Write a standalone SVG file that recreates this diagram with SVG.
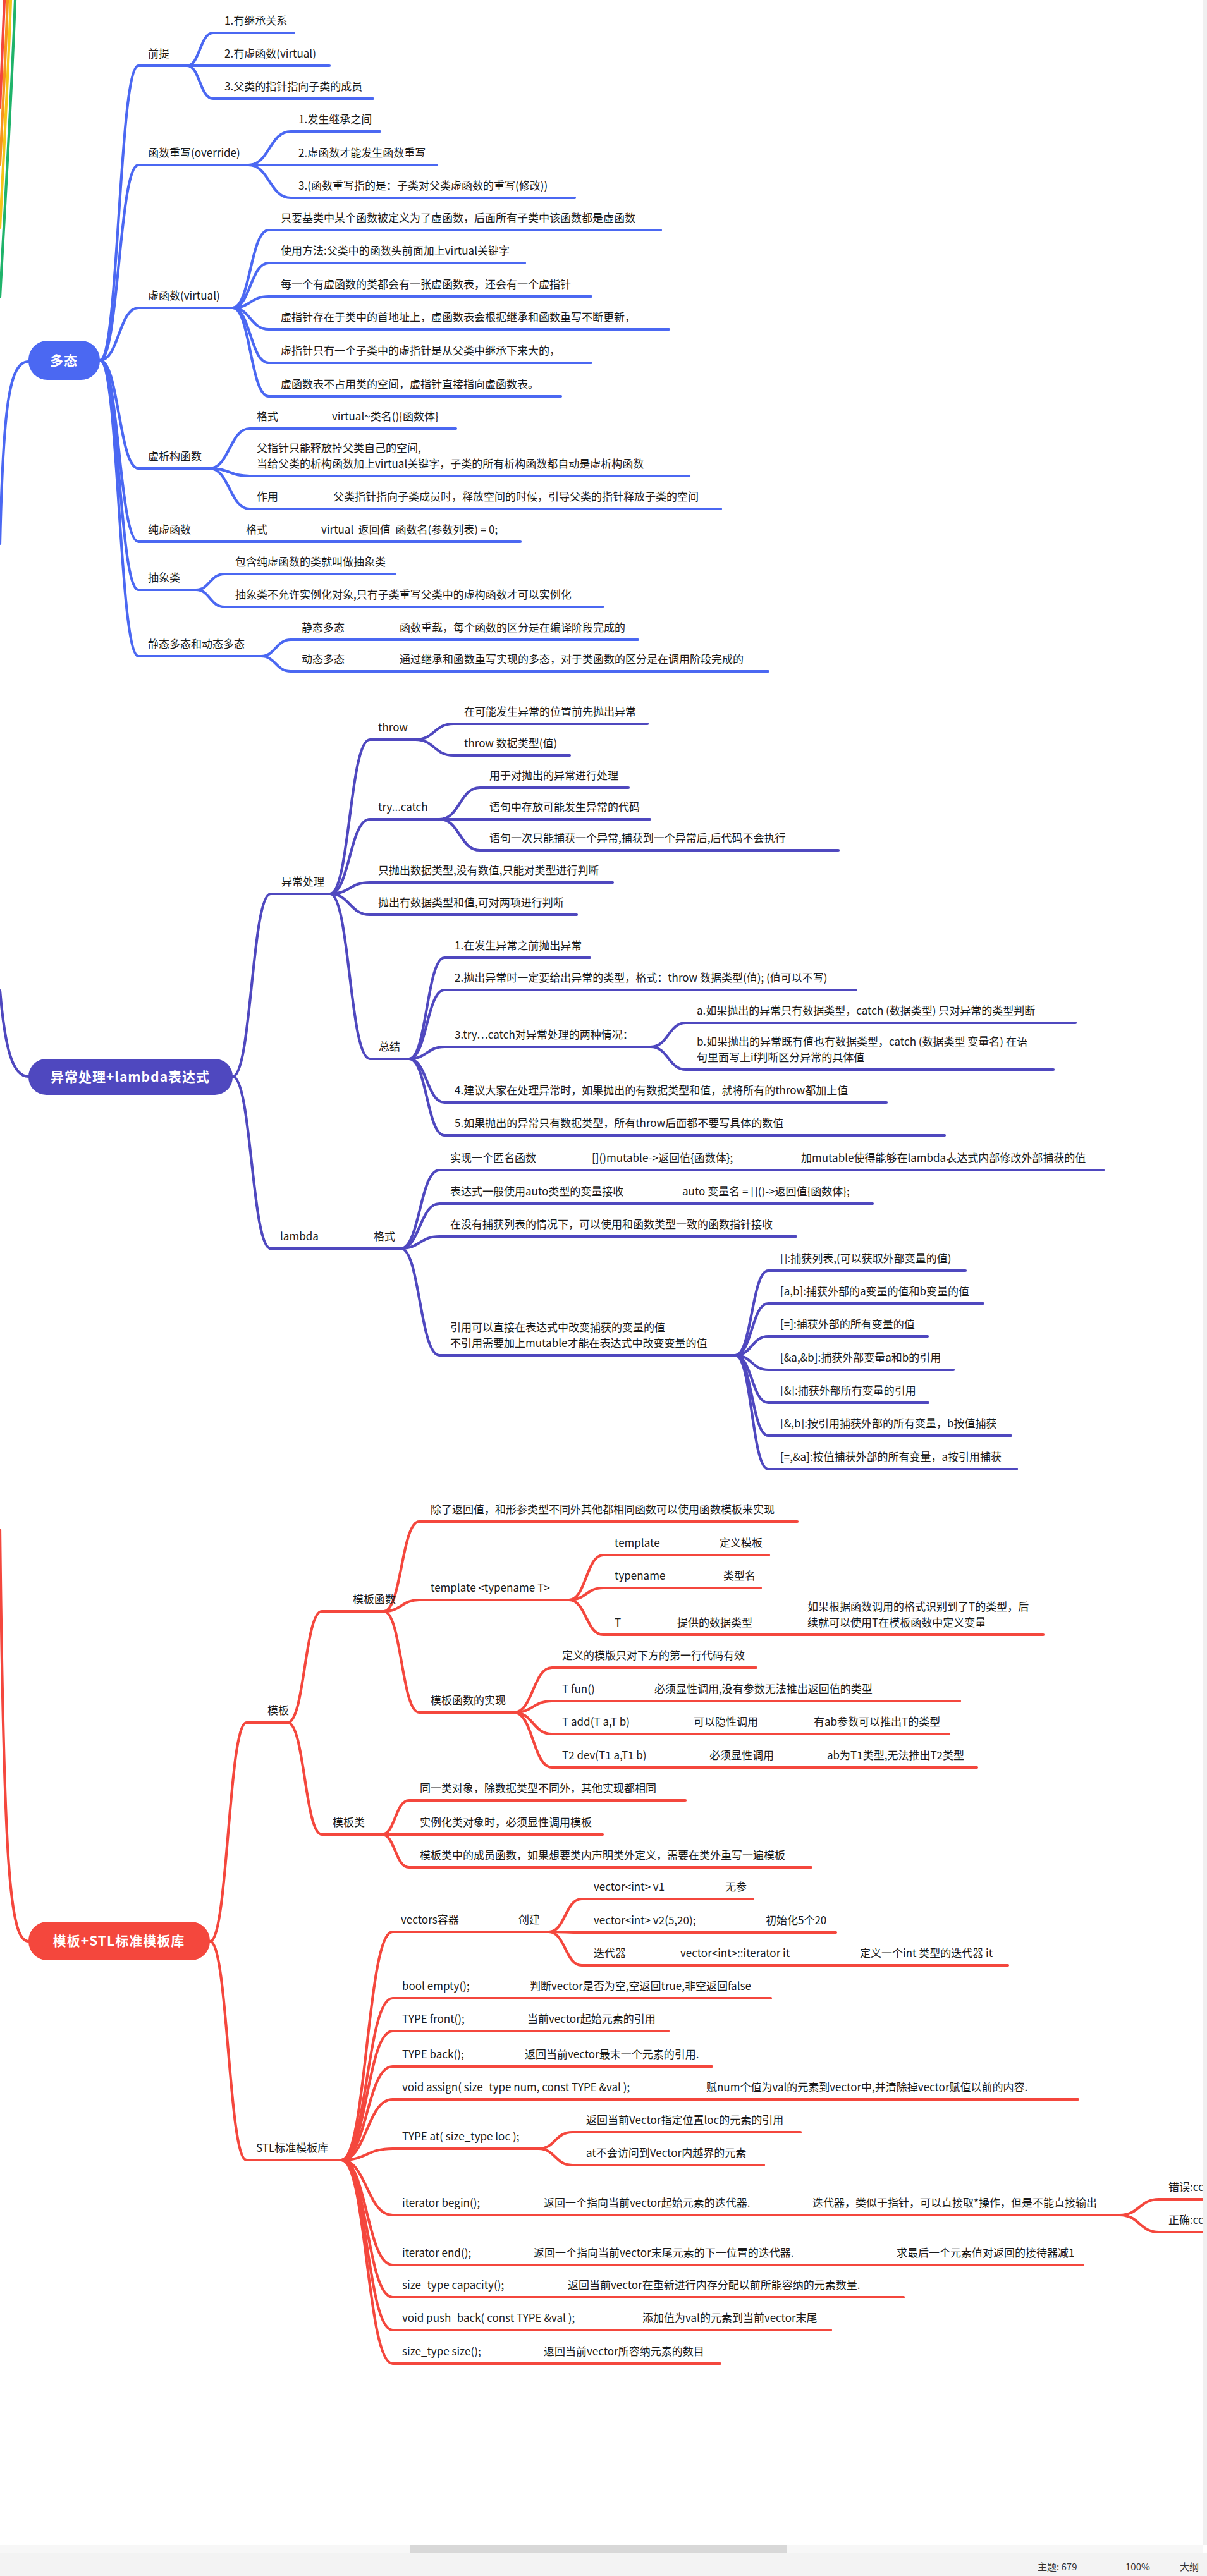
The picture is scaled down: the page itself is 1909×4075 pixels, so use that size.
<svg xmlns="http://www.w3.org/2000/svg" width="1909" height="4075" viewBox="0 0 1909 4075">
<style>
text{font-family:"Noto Sans CJK SC","Noto Sans",sans-serif;font-size:17px;fill:#1a1a1a}
.pre{white-space:pre}
.root{font-size:21px;font-weight:bold;fill:#fff;text-anchor:middle;letter-spacing:1px}
.c{fill:none;stroke-width:4.2;stroke-linecap:round;stroke-linejoin:round}
.b{stroke:#4b68f2}
.p{stroke:#4f48bf}
.r{stroke:#f4473d}
.st{font-size:15px;fill:#333}
</style>
<rect width="1909" height="4075" fill="#fff"/>

<g id="connectors">
  <path class="c r" d="M7,0 C5,60 2,120 0,170"/>
  <path class="c" stroke="#f7941d" d="M12,0 C9,90 4,180 0,260"/>
  <path class="c" stroke="#f5c518" d="M17,0 C13,120 6,240 0,360"/>
  <path class="c" stroke="#1fb36a" d="M24,0 C18,160 8,320 0,470"/>
  <path class="c b" d="M45,572 C15,572 5,640 0,860"/>
  <path class="c p" d="M45,1703 C20,1703 8,1660 0,1567"/>
  <path class="c r" d="M45,3071 C15,3071 6,2950 0,2420"/>

  <path class="c b" d="M158,570 C188,570 188,104 219,104 H296"/>
  <path class="c b" d="M158,570 C188,570 188,261 219,261 H393"/>
  <path class="c b" d="M158,570 C188,570 188,487 219,487 H368"/>
  <path class="c b" d="M158,570 C188,570 188,741 219,741 H331"/>
  <path class="c b" d="M158,570 C188,570 188,857 219,857 H823"/>
  <path class="c b" d="M158,570 C188,570 188,933 219,933 H310"/>
  <path class="c b" d="M158,570 C188,570 188,1038 219,1038 H413"/>
  <path class="c b" d="M296,104 C316,104 316,52 337,52 H465"/>
  <path class="c b" d="M296,104 H521"/>
  <path class="c b" d="M296,104 C316,104 316,156 337,156 H590"/>
  <path class="c b" d="M393,261 C426,261 426,208 460,208 H601"/>
  <path class="c b" d="M393,261 H691"/>
  <path class="c b" d="M393,261 C426,261 426,313 460,313 H909"/>
  <path class="c b" d="M368,487 C396,487 396,364 425,364 H1045"/>
  <path class="c b" d="M368,487 C396,487 396,416 425,416 H830"/>
  <path class="c b" d="M368,487 C396,487 396,469 425,469 H935"/>
  <path class="c b" d="M368,487 C396,487 396,521 425,521 H1058"/>
  <path class="c b" d="M368,487 C396,487 396,574 425,574 H935"/>
  <path class="c b" d="M368,487 C396,487 396,627 425,627 H887"/>
  <path class="c b" d="M331,741 C363,741 363,678 395,678 H721"/>
  <path class="c b" d="M331,741 C363,741 363,753 395,753 H1090"/>
  <path class="c b" d="M331,741 C363,741 363,805 395,805 H1140"/>
  <path class="c b" d="M310,933 C332,933 332,908 355,908 H625"/>
  <path class="c b" d="M310,933 C332,933 332,960 355,960 H954"/>
  <path class="c b" d="M413,1038 C436,1038 436,1012 460,1012 H1009"/>
  <path class="c b" d="M413,1038 C436,1038 436,1062 460,1062 H1215"/>

  <path class="c p" d="M368,1703 C398,1703 398,1414 428,1414 H522"/>
  <path class="c p" d="M368,1703 C398,1703 398,1975 428,1975 H634"/>
  <path class="c p" d="M522,1414 C553,1414 553,1170 585,1170 H657"/>
  <path class="c p" d="M522,1414 C553,1414 553,1296 585,1296 H695"/>
  <path class="c p" d="M522,1414 C553,1414 553,1396 585,1396 H969"/>
  <path class="c p" d="M522,1414 C553,1414 553,1447 585,1447 H912"/>
  <path class="c p" d="M522,1414 C553,1414 553,1675 585,1675 H647"/>
  <path class="c p" d="M657,1170 C687,1170 687,1145 717,1145 H1024"/>
  <path class="c p" d="M657,1170 C687,1170 687,1195 717,1195 H901"/>
  <path class="c p" d="M695,1296 C727,1296 727,1246 759,1246 H994"/>
  <path class="c p" d="M695,1296 H1028"/>
  <path class="c p" d="M695,1296 C727,1296 727,1345 759,1345 H1326"/>
  <path class="c p" d="M647,1675 C675,1675 675,1515 703,1515 H933"/>
  <path class="c p" d="M647,1675 C675,1675 675,1566 703,1566 H1354"/>
  <path class="c p" d="M647,1675 C675,1675 675,1656 703,1656 H1029"/>
  <path class="c p" d="M647,1675 C675,1675 675,1744 703,1744 H1402"/>
  <path class="c p" d="M647,1675 C675,1675 675,1796 703,1796 H1494"/>
  <path class="c p" d="M1029,1656 C1057,1656 1057,1618 1085,1618 H1701"/>
  <path class="c p" d="M1029,1656 C1057,1656 1057,1692 1085,1692 H1666"/>
  <path class="c p" d="M634,1975 C664,1975 664,1851 695,1851 H1745"/>
  <path class="c p" d="M634,1975 C664,1975 664,1904 695,1904 H1380"/>
  <path class="c p" d="M634,1975 C664,1975 664,1956 695,1956 H1259"/>
  <path class="c p" d="M634,1975 C664,1975 664,2144 695,2144 H1163"/>
  <path class="c p" d="M1163,2144 C1189,2144 1189,2010 1215,2010 H1527"/>
  <path class="c p" d="M1163,2144 C1189,2144 1189,2062 1215,2062 H1555"/>
  <path class="c p" d="M1163,2144 C1189,2144 1189,2114 1215,2114 H1467"/>
  <path class="c p" d="M1163,2144 C1189,2144 1189,2167 1215,2167 H1508"/>
  <path class="c p" d="M1163,2144 C1189,2144 1189,2219 1215,2219 H1468"/>
  <path class="c p" d="M1163,2144 C1189,2144 1189,2271 1215,2271 H1599"/>
  <path class="c p" d="M1163,2144 C1189,2144 1189,2324 1215,2324 H1608"/>

  <path class="c r" d="M332,3071 C361,3071 361,2725 390,2725 H455"/>
  <path class="c r" d="M332,3071 C361,3071 361,3417 390,3417 H540"/>
  <path class="c r" d="M455,2725 C482,2725 482,2549 509,2549 H607"/>
  <path class="c r" d="M455,2725 C482,2725 482,2902 509,2902 H604"/>
  <path class="c r" d="M607,2549 C635,2549 635,2407 663,2407 H1261"/>
  <path class="c r" d="M607,2549 C635,2549 635,2531 663,2531 H900"/>
  <path class="c r" d="M607,2549 C635,2549 635,2709 663,2709 H813"/>
  <path class="c r" d="M900,2531 C927,2531 927,2460 954,2460 H1216"/>
  <path class="c r" d="M900,2531 C927,2531 927,2512 954,2512 H1203"/>
  <path class="c r" d="M900,2531 C927,2531 927,2586 954,2586 H1650"/>
  <path class="c r" d="M813,2709 C843,2709 843,2638 873,2638 H1196"/>
  <path class="c r" d="M813,2709 C843,2709 843,2691 873,2691 H1518"/>
  <path class="c r" d="M813,2709 C843,2709 843,2743 873,2743 H1501"/>
  <path class="c r" d="M813,2709 C843,2709 843,2796 873,2796 H1545"/>
  <path class="c r" d="M604,2902 C625,2902 625,2848 647,2848 H1084"/>
  <path class="c r" d="M604,2902 H953"/>
  <path class="c r" d="M604,2902 C625,2902 625,2954 647,2954 H1283"/>
  <path class="c r" d="M540,3417 C580,3417 580,3056 621,3056 H868"/>
  <path class="c r" d="M540,3417 C580,3417 580,3161 621,3161 H1219"/>
  <path class="c r" d="M540,3417 C580,3417 580,3213 621,3213 H1057"/>
  <path class="c r" d="M540,3417 C580,3417 580,3269 621,3269 H1126"/>
  <path class="c r" d="M540,3417 C580,3417 580,3321 621,3321 H1705"/>
  <path class="c r" d="M540,3417 C580,3417 580,3399 621,3399 H852"/>
  <path class="c r" d="M540,3417 C580,3417 580,3504 621,3504 H1771"/>
  <path class="c r" d="M540,3417 C580,3417 580,3583 621,3583 H1713"/>
  <path class="c r" d="M540,3417 C580,3417 580,3634 621,3634 H1429"/>
  <path class="c r" d="M540,3417 C580,3417 580,3686 621,3686 H1314"/>
  <path class="c r" d="M540,3417 C580,3417 580,3739 621,3739 H1139"/>
  <path class="c r" d="M868,3056 C894,3056 894,3004 920,3004 H1191"/>
  <path class="c r" d="M868,3056 C894,3056 894,3057 920,3057 H1322"/>
  <path class="c r" d="M868,3056 C894,3056 894,3109 920,3109 H1594"/>
  <path class="c r" d="M852,3399 C878,3399 878,3373 905,3373 H1266"/>
  <path class="c r" d="M852,3399 C878,3399 878,3425 905,3425 H1208"/>
  <path class="c r" d="M1771,3504 C1802,3504 1802,3479 1833,3479 H1915"/>
  <path class="c r" d="M1771,3504 C1802,3504 1802,3531 1833,3531 H1915"/>
</g>

<g id="root-duotai"><rect x="45" y="539" width="113" height="62" rx="30" fill="#4b68f2"/><text class="root" x="101" y="578">多态</text></g>
<g id="qianti"><text x="234" y="91">前提</text></g>
<g id="qianti-1"><text x="355" y="39">1.有继承关系</text></g>
<g id="qianti-2"><text x="355" y="91">2.有虚函数(virtual)</text></g>
<g id="qianti-3"><text x="355" y="143">3.父类的指针指向子类的成员</text></g>
<g id="override"><text x="234" y="248">函数重写(override)</text></g>
<g id="override-1"><text x="472" y="195">1.发生继承之间</text></g>
<g id="override-2"><text x="472" y="248">2.虚函数才能发生函数重写</text></g>
<g id="override-3"><text x="472" y="300">3.(函数重写指的是：子类对父类虚函数的重写(修改))</text></g>
<g id="virtual"><text x="234" y="474">虚函数(virtual)</text></g>
<g id="virtual-1"><text x="444" y="351">只要基类中某个函数被定义为了虚函数，后面所有子类中该函数都是虚函数</text></g>
<g id="virtual-2"><text x="444" y="403">使用方法:父类中的函数头前面加上virtual关键字</text></g>
<g id="virtual-3"><text x="444" y="456">每一个有虚函数的类都会有一张虚函数表，还会有一个虚指针</text></g>
<g id="virtual-4"><text x="444" y="508">虚指针存在于类中的首地址上，虚函数表会根据继承和函数重写不断更新，</text></g>
<g id="virtual-5"><text x="444" y="561">虚指针只有一个子类中的虚指针是从父类中继承下来大的，</text></g>
<g id="virtual-6"><text x="444" y="614">虚函数表不占用类的空间，虚指针直接指向虚函数表。</text></g>
<g id="dtor"><text x="234" y="728">虚析构函数</text></g>
<g id="dtor-1"><text x="406" y="665">格式</text><text x="525" y="665">virtual~类名(){函数体}</text></g>
<g id="dtor-2"><text x="406" y="715">父指针只能释放掉父类自己的空间,</text><text x="406" y="740">当给父类的析构函数加上virtual关键字，子类的所有析构函数都自动是虚析构函数</text></g>
<g id="dtor-3"><text x="406" y="792">作用</text><text x="527" y="792">父类指针指向子类成员时，释放空间的时候，引导父类的指针释放子类的空间</text></g>
<g id="pure"><text x="234" y="844">纯虚函数</text><text x="389" y="844">格式</text><text class="pre" x="508" y="844">virtual  返回值  函数名(参数列表) = 0;</text></g>
<g id="abstract"><text x="234" y="920">抽象类</text></g>
<g id="abstract-1"><text x="372" y="895">包含纯虚函数的类就叫做抽象类</text></g>
<g id="abstract-2"><text x="372" y="947">抽象类不允许实例化对象,只有子类重写父类中的虚构函数才可以实例化</text></g>
<g id="static-dynamic"><text x="234" y="1025">静态多态和动态多态</text></g>
<g id="static"><text x="477" y="999">静态多态</text><text x="632" y="999">函数重载，每个函数的区分是在编译阶段完成的</text></g>
<g id="dynamic"><text x="477" y="1049">动态多态</text><text x="632" y="1049">通过继承和函数重写实现的多态，对于类函数的区分是在调用阶段完成的</text></g>

<g id="root-exception"><rect x="45" y="1675" width="323" height="57" rx="28" fill="#4f48bf"/><text class="root" x="206" y="1711">异常处理+lambda表达式</text></g>
<g id="exc"><text x="445" y="1401">异常处理</text></g>
<g id="throw"><text x="598" y="1157">throw</text></g>
<g id="throw-1"><text x="734" y="1132">在可能发生异常的位置前先抛出异常</text></g>
<g id="throw-2"><text x="734" y="1182">throw 数据类型(值)</text></g>
<g id="trycatch"><text x="598" y="1283">try...catch</text></g>
<g id="trycatch-1"><text x="774" y="1233">用于对抛出的异常进行处理</text></g>
<g id="trycatch-2"><text x="774" y="1283">语句中存放可能发生异常的代码</text></g>
<g id="trycatch-3"><text x="774" y="1332">语句一次只能捕获一个异常,捕获到一个异常后,后代码不会执行</text></g>
<g id="exc-3"><text x="598" y="1383">只抛出数据类型,没有数值,只能对类型进行判断</text></g>
<g id="exc-4"><text x="598" y="1434">抛出有数据类型和值,可对两项进行判断</text></g>
<g id="summary"><text x="599" y="1662">总结</text></g>
<g id="summary-1"><text x="719" y="1502">1.在发生异常之前抛出异常</text></g>
<g id="summary-2"><text x="719" y="1553">2.抛出异常时一定要给出异常的类型，格式：throw 数据类型(值); (值可以不写)</text></g>
<g id="summary-3"><text x="719" y="1643">3.try…catch对异常处理的两种情况：</text></g>
<g id="summary-3a"><text x="1102" y="1605">a.如果抛出的异常只有数据类型，catch (数据类型) 只对异常的类型判断</text></g>
<g id="summary-3b"><text x="1102" y="1654">b.如果抛出的异常既有值也有数据类型，catch (数据类型 变量名) 在语</text><text x="1102" y="1679">句里面写上if判断区分异常的具体值</text></g>
<g id="summary-4"><text x="719" y="1731">4.建议大家在处理异常时，如果抛出的有数据类型和值，就将所有的throw都加上值</text></g>
<g id="summary-5"><text x="719" y="1783">5.如果抛出的异常只有数据类型，所有throw后面都不要写具体的数值</text></g>
<g id="lambda"><text x="443" y="1962">lambda</text><text x="591" y="1962">格式</text></g>
<g id="lambda-1"><text x="712" y="1838">实现一个匿名函数</text><text x="936" y="1838">[]()mutable-&gt;返回值{函数体};</text><text x="1267" y="1838">加mutable使得能够在lambda表达式内部修改外部捕获的值</text></g>
<g id="lambda-2"><text x="712" y="1891">表达式一般使用auto类型的变量接收</text><text x="1079" y="1891">auto 变量名 = []()-&gt;返回值{函数体};</text></g>
<g id="lambda-3"><text x="712" y="1943">在没有捕获列表的情况下，可以使用和函数类型一致的函数指针接收</text></g>
<g id="lambda-4"><text x="712" y="2106">引用可以直接在表达式中改变捕获的变量的值</text><text x="712" y="2131">不引用需要加上mutable才能在表达式中改变变量的值</text></g>
<g id="cap-1"><text x="1234" y="1997">[]:捕获列表,(可以获取外部变量的值)</text></g>
<g id="cap-2"><text x="1234" y="2049">[a,b]:捕获外部的a变量的值和b变量的值</text></g>
<g id="cap-3"><text x="1234" y="2101">[=]:捕获外部的所有变量的值</text></g>
<g id="cap-4"><text x="1234" y="2154">[&amp;a,&amp;b]:捕获外部变量a和b的引用</text></g>
<g id="cap-5"><text x="1234" y="2206">[&amp;]:捕获外部所有变量的引用</text></g>
<g id="cap-6"><text x="1234" y="2258">[&amp;,b]:按引用捕获外部的所有变量，b按值捕获</text></g>
<g id="cap-7"><text x="1234" y="2311">[=,&amp;a]:按值捕获外部的所有变量，a按引用捕获</text></g>

<g id="root-template"><rect x="45" y="3040" width="287" height="61" rx="30" fill="#f4473d"/><text class="root" x="188" y="3078">模板+STL标准模板库</text></g>
<g id="tpl"><text x="423" y="2712">模板</text></g>
<g id="tplfunc"><text x="558" y="2536">模板函数</text></g>
<g id="tplfunc-1"><text x="681" y="2394">除了返回值，和形参类型不同外其他都相同函数可以使用函数模板来实现</text></g>
<g id="tplfunc-2"><text x="681" y="2518">template &lt;typename T&gt;</text></g>
<g id="kw-template"><text x="972" y="2447">template</text><text x="1138" y="2447">定义模板</text></g>
<g id="kw-typename"><text x="972" y="2499">typename</text><text x="1144" y="2499">类型名</text></g>
<g id="kw-T"><text x="972" y="2573">T</text><text x="1071" y="2573">提供的数据类型</text><text x="1277" y="2548">如果根据函数调用的格式识别到了T的类型，后</text><text x="1277" y="2573">续就可以使用T在模板函数中定义变量</text></g>
<g id="tplfunc-3"><text x="681" y="2696">模板函数的实现</text></g>
<g id="impl-1"><text x="889" y="2625">定义的模版只对下方的第一行代码有效</text></g>
<g id="impl-2"><text x="889" y="2678">T fun()</text><text x="1035" y="2678">必须显性调用,没有参数无法推出返回值的类型</text></g>
<g id="impl-3"><text x="889" y="2730">T add(T a,T b)</text><text x="1097" y="2730">可以隐性调用</text><text x="1287" y="2730">有ab参数可以推出T的类型</text></g>
<g id="impl-4"><text x="889" y="2783">T2 dev(T1 a,T1 b)</text><text x="1122" y="2783">必须显性调用</text><text x="1308" y="2783">ab为T1类型,无法推出T2类型</text></g>
<g id="tplclass"><text x="526" y="2889">模板类</text></g>
<g id="tplclass-1"><text x="664" y="2835">同一类对象，除数据类型不同外，其他实现都相同</text></g>
<g id="tplclass-2"><text x="664" y="2889">实例化类对象时，必须显性调用模板</text></g>
<g id="tplclass-3"><text x="664" y="2941">模板类中的成员函数，如果想要类内声明类外定义，需要在类外重写一遍模板</text></g>
<g id="stl"><text x="405" y="3404">STL标准模板库</text></g>
<g id="vec"><text x="634" y="3043">vectors容器</text><text x="820" y="3043">创建</text></g>
<g id="vec-1"><text x="939" y="2991">vector&lt;int&gt; v1</text><text x="1147" y="2991">无参</text></g>
<g id="vec-2"><text x="939" y="3044">vector&lt;int&gt; v2(5,20);</text><text x="1211" y="3044">初始化5个20</text></g>
<g id="vec-3"><text x="939" y="3096">迭代器</text><text x="1076" y="3096">vector&lt;int&gt;::iterator it</text><text x="1360" y="3096">定义一个int 类型的迭代器 it</text></g>
<g id="empty"><text x="636" y="3148">bool empty();</text><text x="838" y="3148">判断vector是否为空,空返回true,非空返回false</text></g>
<g id="front"><text x="636" y="3200">TYPE front();</text><text x="834" y="3200">当前vector起始元素的引用</text></g>
<g id="back"><text x="636" y="3256">TYPE back();</text><text x="830" y="3256">返回当前vector最末一个元素的引用.</text></g>
<g id="assign"><text x="636" y="3308">void assign( size_type num, const TYPE &amp;val );</text><text x="1117" y="3308">赋num个值为val的元素到vector中,并清除掉vector赋值以前的内容.</text></g>
<g id="at"><text x="636" y="3386">TYPE at( size_type loc );</text></g>
<g id="at-1"><text x="927" y="3360">返回当前Vector指定位置loc的元素的引用</text></g>
<g id="at-2"><text x="927" y="3412">at不会访问到Vector内越界的元素</text></g>
<g id="begin"><text x="636" y="3491">iterator begin();</text><text x="860" y="3491">返回一个指向当前vector起始元素的迭代器.</text><text x="1285" y="3491">迭代器，类似于指针，可以直接取*操作，但是不能直接输出</text></g>
<g id="begin-1"><text x="1848" y="3466">错误:cc</text></g>
<g id="begin-2"><text x="1848" y="3518">正确:cc</text></g>
<g id="end"><text x="636" y="3570">iterator end();</text><text x="844" y="3570">返回一个指向当前vector末尾元素的下一位置的迭代器.</text><text x="1418" y="3570">求最后一个元素值对返回的接待器减1</text></g>
<g id="capacity"><text x="636" y="3621">size_type capacity();</text><text x="898" y="3621">返回当前vector在重新进行内存分配以前所能容纳的元素数量.</text></g>
<g id="push_back"><text x="636" y="3673">void push_back( const TYPE &amp;val );</text><text x="1016" y="3673">添加值为val的元素到当前vector末尾</text></g>
<g id="size"><text x="636" y="3726">size_type size();</text><text x="860" y="3726">返回当前vector所容纳元素的数目</text></g>

<rect x="1903" y="0" width="6" height="4026" fill="#f0f0f0"/>
<rect x="0" y="4026" width="1903" height="12" fill="#f7f7f7"/>
<rect x="648" y="4026" width="597" height="12" fill="#d8d8d8"/>
<rect x="0" y="4038" width="1909" height="37" fill="#f3f3f3"/>
<line x1="0" y1="4038.5" x2="1909" y2="4038.5" stroke="#e4e4e4"/>
<text class="st" x="1641" y="4066">主题: 679</text>
<text class="st" x="1780" y="4066">100%</text>
<text class="st" x="1866" y="4066">大纲</text>
</svg>
